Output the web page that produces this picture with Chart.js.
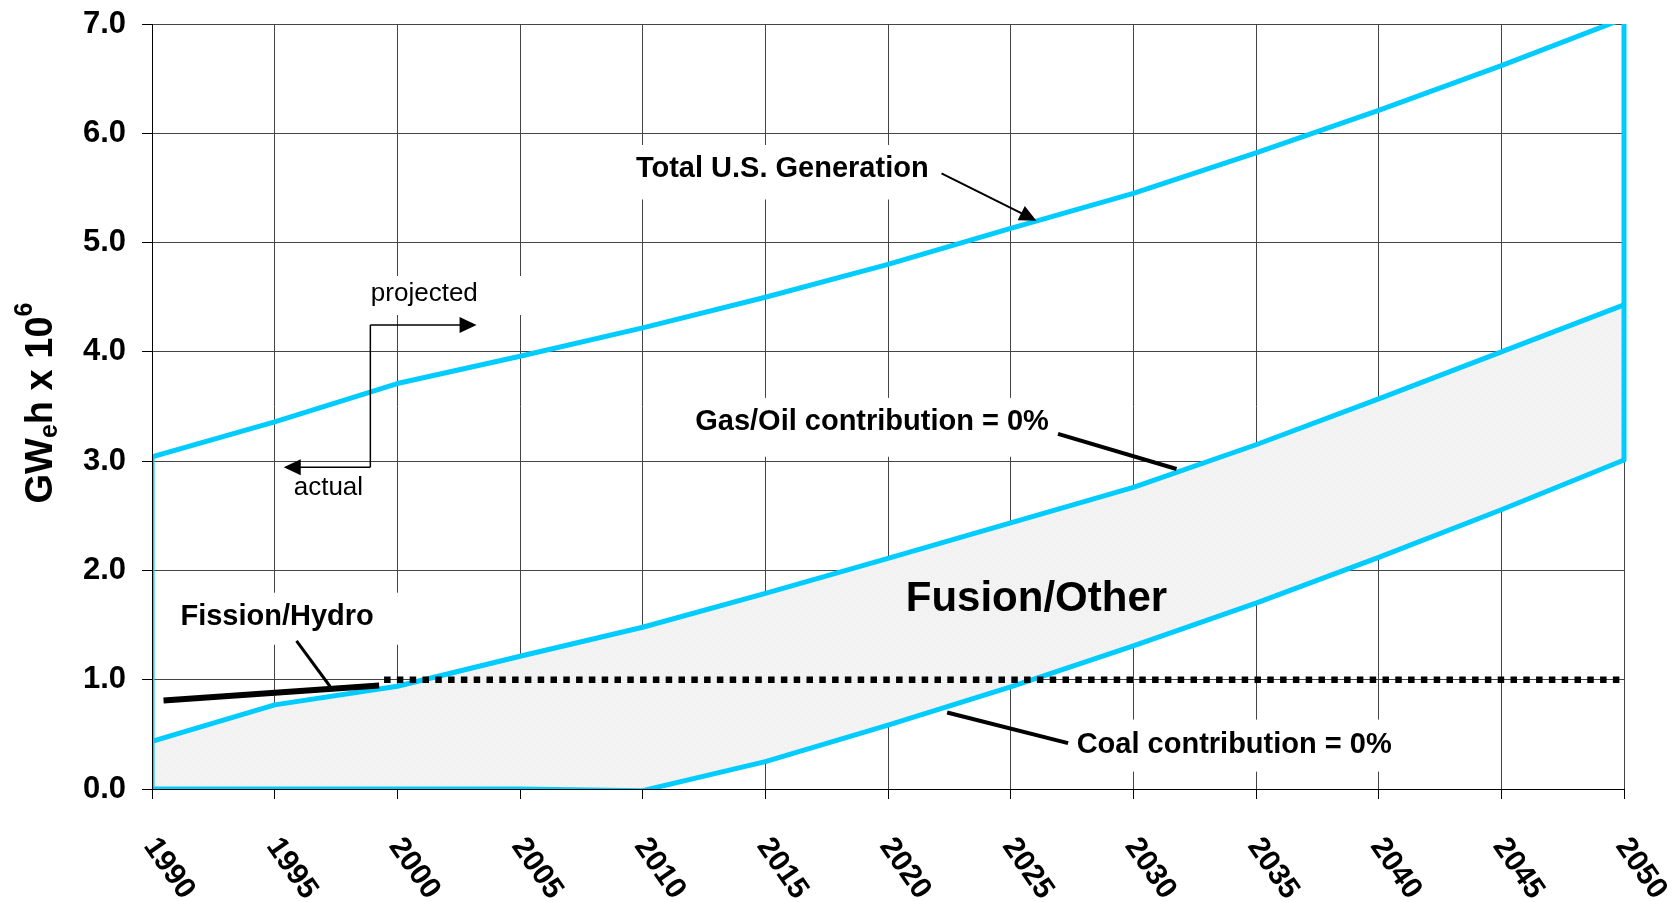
<!DOCTYPE html>
<html><head><meta charset="utf-8">
<script src="https://cdn.jsdelivr.net/npm/chart.js@4.4.1/dist/chart.umd.min.js"></script>
<style>html,body{margin:0;padding:0;background:#fff;}#wrap{width:1674px;height:902px;position:relative;}</style>
</head><body><div id="wrap"><canvas id="c"></canvas></div>
<script>
// ---------- data ----------
const years = [1990,1995,2000,2005,2010,2015,2020,2025,2030,2035,2040,2045,2050];
const totalGeneration = [3.04,3.36,3.71,3.96,4.22,4.50,4.80,5.13,5.45,5.82,6.21,6.62,7.05];
const gasOilZero = [0.435,0.77,0.94,1.215,1.48,1.79,2.11,2.435,2.76,3.15,3.57,4.00,4.43];
const coalZero = [0,0,0,0,-0.015,0.25,0.585,0.935,1.31,1.70,2.12,2.555,3.01];
const fissionActualYears = [1990.47, 1999.26];
const fissionActualValues = [0.81, 0.947];
const fissionProjectedYears = [1999.46, 2050];
const fissionProjectedValues = [1.0, 1.0];
const yTickLabels = ['0.0','1.0','2.0','3.0','4.0','5.0','6.0','7.0'];
const xTickLabels = ['1990','1995','2000','2005','2010','2015','2020','2025','2030','2035','2040','2045','2050'];

// ---------- annotation placement (in data units) ----------
const FONT = "'Liberation Sans', Arial, Helvetica, sans-serif";
const CYAN = '#00ccff';
const labelBoxes = [
  {x0:2009.07, x1:2022.32, y0:5.893, y1:5.394},
  {x0:1998.47, x1:2005.40, y0:4.694, y1:4.337},
  {x0:1990.64, x1:2000.10, y0:1.796, y1:1.320},
  {x0:2011.51, x1:2027.08, y0:3.579, y1:3.040},
  {x0:2027.21, x1:2041.07, y0:0.635, y1:0.159}
];
const texts = [
  {text:'Total U.S. Generation', x:2015.69, y:5.695, size:29, bold:true},
  {text:'projected', x:2001.10, y:4.547, size:26, bold:false},
  {text:'actual', x:1997.19, y:2.774, size:26, bold:false},
  {text:'Fission/Hydro', x:1995.10, y:1.596, size:29, bold:true},
  {text:'Gas/Oil contribution = 0%', x:2019.35, y:3.382, size:29, bold:true},
  {text:'Fusion/Other', x:2026.05, y:1.770, size:42, bold:true},
  {text:'Coal contribution = 0%', x:2034.11, y:0.425, size:29, bold:true}
];
const arrows = [
  {from:[2022.18,5.634], to:[2026.05,5.20], w:2, head:true},
  {from:[1998.90,4.246], to:[2003.23,4.246], w:1.5, head:true},
  {from:[1998.90,2.945], to:[1995.37,2.945], w:1.5, head:true},
  {from:[1998.90,4.246], to:[1998.90,2.945], w:1.5, head:false},
  {from:[1995.89,1.356], to:[1997.26,0.938], w:3, head:false},
  {from:[2026.93,3.250], to:[2031.76,2.928], w:4, head:false},
  {from:[2022.41,0.70], to:[2027.34,0.42], w:4, head:false}
];

// ---------- fill pattern ----------
function makePattern(){
  const pc = document.createElement('canvas'); pc.width = 8; pc.height = 8;
  const p = pc.getContext('2d');
  p.fillStyle = '#f2f2f2'; p.fillRect(0,0,8,8);
  p.fillStyle = '#ffffff'; p.fillRect(1,1,1,1); p.fillRect(5,5,1,1);
  return p.createPattern(pc,'repeat');
}

const outline = [{x:years[0], y:coalZero[0]}]
  .concat(years.map((yr,i)=>({x:yr, y:totalGeneration[i]})))
  .concat([{x:years[years.length-1], y:coalZero[coalZero.length-1]}]);
const CLIP = {left:0, top:0, right:6, bottom:0};

const annot = {
  id:'annot',
  beforeDatasetsDraw(chart){
    const {ctx, scales:{x,y}} = chart;
    ctx.save(); ctx.fillStyle = '#fff';
    for (const b of labelBoxes){
      const l = x.getPixelForValue(b.x0), r = x.getPixelForValue(b.x1);
      const t = y.getPixelForValue(b.y0), bt = y.getPixelForValue(b.y1);
      ctx.fillRect(l, t, r-l, bt-t);
    }
    ctx.restore();
  },
  afterDatasetsDraw(chart){
    const {ctx, scales:{x,y}} = chart;
    ctx.save();
    ctx.strokeStyle = '#000'; ctx.fillStyle = '#000'; ctx.lineCap = 'butt';
    for (const a of arrows){
      const x0 = x.getPixelForValue(a.from[0]), y0 = y.getPixelForValue(a.from[1]);
      const x1 = x.getPixelForValue(a.to[0]), y1 = y.getPixelForValue(a.to[1]);
      const ang = Math.atan2(y1-y0, x1-x0);
      const hl = 17, hw = 8;
      let ex = x1, ey = y1;
      if (a.head){ ex = x1 - Math.cos(ang)*hl*0.9; ey = y1 - Math.sin(ang)*hl*0.9; }
      ctx.lineWidth = a.w;
      ctx.beginPath(); ctx.moveTo(x0,y0); ctx.lineTo(ex,ey); ctx.stroke();
      if (a.head){
        ctx.beginPath();
        ctx.moveTo(x1,y1);
        ctx.lineTo(x1 - Math.cos(ang)*hl - Math.sin(ang)*hw, y1 - Math.sin(ang)*hl + Math.cos(ang)*hw);
        ctx.lineTo(x1 - Math.cos(ang)*hl + Math.sin(ang)*hw, y1 - Math.sin(ang)*hl - Math.cos(ang)*hw);
        ctx.closePath(); ctx.fill();
      }
    }
    ctx.textAlign = 'center'; ctx.textBaseline = 'alphabetic';
    for (const t of texts){
      ctx.font = (t.bold ? 'bold ' : '') + t.size + 'px ' + FONT;
      ctx.fillText(t.text, x.getPixelForValue(t.x), y.getPixelForValue(t.y) + 0.358*t.size);
    }
    ctx.restore();
  },
  afterDraw(chart){
    const {ctx, scales:{x}} = chart;
    ctx.save();
    ctx.fillStyle = '#000';
    ctx.font = 'bold 30px ' + FONT;
    ctx.textAlign = 'left'; ctx.textBaseline = 'alphabetic';
    const th = 55*Math.PI/180;
    years.forEach((v,i)=>{
      const px = x.getPixelForValue(v);
      ctx.save(); ctx.translate(px - 9, 846); ctx.rotate(th);
      ctx.fillText(xTickLabels[i], 0, 0); ctx.restore();
    });
    // y-axis title with subscript/superscript
    const parts = [
      {t:'GW', s:38, dy:0}, {t:'e', s:25, dy:5}, {t:'h x 10', s:38, dy:0}, {t:'6', s:25, dy:-20}
    ];
    let W = 0;
    for (const p of parts){ ctx.font = 'bold ' + p.s + 'px ' + FONT; p.w = ctx.measureText(p.t).width; W += p.w; }
    ctx.translate(52, 403); ctx.rotate(-Math.PI/2);
    let cx = -W/2;
    for (const p of parts){ ctx.font = 'bold ' + p.s + 'px ' + FONT; ctx.fillText(p.t, cx, p.dy); cx += p.w; }
    ctx.restore();
  }
};

const ctx = document.getElementById('c').getContext('2d');
const chart = new Chart(ctx, {
  type:'line',
  data:{ datasets:[
    {label:'Fission/Hydro projected', data: fissionProjectedYears.map((v,i)=>({x:v, y:fissionProjectedValues[i]})),
      borderColor:'#000', borderWidth:6.5, borderDash:[6.5,6.3], pointRadius:0, fill:false, order:0, clip:CLIP},
    {label:'Fission/Hydro actual', data: fissionActualYears.map((v,i)=>({x:v, y:fissionActualValues[i]})),
      borderColor:'#000', borderWidth:6, pointRadius:0, fill:false, order:1, clip:CLIP},
    {label:'Total U.S. Generation', data: outline,
      borderColor:CYAN, borderWidth:5, pointRadius:0, fill:false, order:2, clip:CLIP, borderJoinStyle:'round'},
    {label:'Gas/Oil contribution = 0%', data: years.map((v,i)=>({x:v, y:gasOilZero[i]})),
      borderColor:CYAN, borderWidth:5, pointRadius:0, fill:4, backgroundColor:makePattern(), order:3, clip:CLIP, borderJoinStyle:'round'},
    {label:'Coal contribution = 0%', data: years.map((v,i)=>({x:v, y:coalZero[i]})),
      borderColor:CYAN, borderWidth:5, pointRadius:0, fill:false, order:4, clip:CLIP, borderJoinStyle:'round'}
  ]},
  options:{
    responsive:true, maintainAspectRatio:false, animation:false, devicePixelRatio:1,
    layout:{padding:{top:24, right:50, left:0, bottom:0}},
    plugins:{ legend:{display:false}, tooltip:{enabled:false}, filler:{drawTime:'beforeDatasetsDraw', propagate:false} },
    elements:{ line:{tension:0} },
    scales:{
      x:{ type:'linear', min:1990, max:2050,
        ticks:{ stepSize:5, display:false },
        grid:{ color:'#444', lineWidth:1, drawTicks:true, tickLength:10, tickColor:'#000' },
        border:{ color:'#000', width:1, z:1 },
        afterFit(s){ s.height = 113; s.paddingLeft = 0; s.paddingRight = 0; } },
      y:{ min:0, max:7,
        ticks:{ stepSize:1, padding:16, color:'#000', font:{family:FONT, size:31, weight:'bold'},
          callback:(v)=> yTickLabels[Math.round(v)] },
        grid:{ color:'#444', lineWidth:1, drawTicks:true, tickLength:10, tickColor:'#000' },
        border:{ color:'#000', width:1, z:1 },
        afterFit(s){ s.width = 152; s.paddingTop = 0; s.paddingBottom = 0; } }
    }
  },
  plugins:[annot]
});
</script></body></html>
